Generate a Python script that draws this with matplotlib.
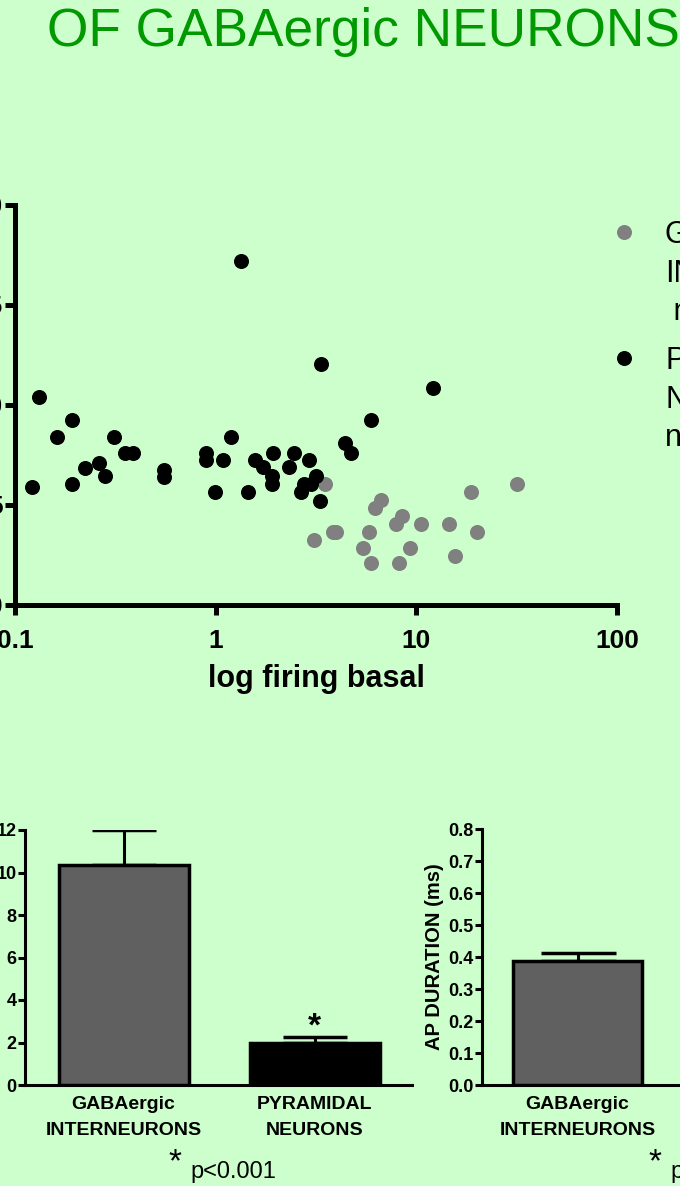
import numpy as np
import matplotlib.pyplot as plt
from matplotlib.lines import Line2D

plt.rcParams['font.family'] = ['Liberation Sans', 'DejaVu Sans']

BG = '#CCFFCC'
GREEN = '#009900'

# scatter data: basal firing (Hz, log axis) vs y value
inter_x = [3.52, 3.08, 3.83, 3.98, 6.68, 6.24, 5.84, 5.45, 5.96, 8.51,
           7.88, 10.59, 9.26, 8.19, 14.51, 15.54, 18.62, 19.95, 31.7]
inter_y = [6.05, 3.25, 3.67, 3.67, 5.25, 4.83, 3.67, 2.87, 2.08, 4.45,
           4.05, 4.05, 2.87, 2.08, 4.05, 2.45, 5.63, 3.67, 6.05]

pyr_x = [0.121, 0.131, 0.162, 0.192, 0.192, 0.224, 0.261, 0.282, 0.310, 0.355,
         0.388, 0.551, 0.551, 0.891, 0.891, 0.989, 1.093, 1.189, 1.334, 1.451,
         1.567, 1.712, 1.921, 1.899, 1.899, 2.326, 2.447, 2.928, 3.162, 2.764,
         2.661, 2.985, 3.323, 3.350, 12.12, 5.957, 4.416, 4.732]
pyr_y = [5.92, 10.42, 8.42, 9.25, 6.05, 6.87, 7.12, 6.45, 8.42, 7.62,
         7.62, 6.75, 6.42, 7.62, 7.25, 5.63, 7.25, 8.42, 17.22, 5.63,
         7.25, 6.88, 7.62, 6.45, 6.05, 6.88, 7.62, 7.25, 6.45, 6.05,
         5.63, 6.05, 5.22, 12.03, 10.83, 9.25, 8.08, 7.62]

legend_inter = ['GABAergic', 'INTERNEURONS', ' n=19']
legend_pyr = ['PYRAMIDAL', 'NEURONS', 'n=38']

# bar charts
groups = ['GABAergic\nINTERNEURONS', 'PYRAMIDAL\nNEURONS']
rate_mean = [10.35, 1.98]
rate_err = [1.65, 0.29]
ap_groups = ['GABAergic\nINTERNEURONS']
ap_mean = [0.388]
ap_err = [0.026]

W, H = 680, 1186
fig = plt.figure(figsize=(W / 100, H / 100), dpi=100, facecolor=BG)

def box(left, top, right, bottom):
    return [left / W, 1 - bottom / H, (right - left) / W, (bottom - top) / H]

fig.text(47 / W, 1 - 46 / H, 'OF GABAergic NEURONS', color=GREEN,
         fontsize=38.3, va='baseline', ha='left')

# ---- scatter ----
ax = fig.add_axes(box(15, 205, 617, 605))
ax.set_facecolor(BG)
ax.scatter(inter_x, inter_y, s=117, color='#808080', linewidths=0, zorder=3)
ax.scatter(pyr_x, pyr_y, s=117, color='black', linewidths=0, zorder=4)
ax.set_xscale('log')
ax.set_xlim(0.1, 100)
ax.set_ylim(0, 20)
ax.set_xticks([0.1, 1, 10, 100])
ax.set_xticklabels(['0.1', '1', '10', '100'])
ax.xaxis.set_minor_locator(plt.NullLocator())
ax.set_yticks([0, 5, 10, 15, 20])
for s in ['top', 'right']:
    ax.spines[s].set_visible(False)
for s in ['left', 'bottom']:
    ax.spines[s].set_linewidth(3.6)
ax.tick_params(width=3.6, length=7, labelsize=19, direction='out')
ax.tick_params(axis='x', pad=10)
ax.tick_params(axis='y', pad=2)
for lab in ax.get_xticklabels() + ax.get_yticklabels():
    lab.set_fontweight('bold')
ax.set_xlabel('log firing basal', fontsize=22, fontweight='bold', labelpad=8)

# legend (drawn as figure text, runs past the right edge)
for color, y0, lines in [('#808080', 232, legend_inter), ('black', 358, legend_pyr)]:
    fig.add_artist(Line2D([624 / W], [1 - y0 / H], marker='o', markersize=10.8,
                          color=color, markeredgewidth=0,
                          transform=fig.transFigure))
    for i, line in enumerate(lines):
        fig.text(665 / W, 1 - (y0 + 11 + 38.5 * i) / H, line, fontsize=22,
                 va='baseline', ha='left')

# ---- bar chart: firing rate ----
b1 = fig.add_axes(box(25, 830, 412, 1085))
b1.set_facecolor(BG)
b1.bar(range(2), rate_mean, width=0.68, color=['#606060', 'black'],
       edgecolor='black', linewidth=2.5, zorder=3)
b1.errorbar(range(2), rate_mean, yerr=[[0, 0], rate_err], fmt='none',
            ecolor='black', elinewidth=2.2, capsize=23, capthick=2.5, zorder=2)
b1.text(1, rate_mean[1] + rate_err[1] - 0.25, '*', ha='center', va='bottom',
        fontsize=24, fontweight='bold')
b1.set_xlim(-0.516, 1.51)
b1.set_ylim(0, 12)
b1.set_yticks(range(0, 13, 2))
b1.set_xticks(range(2))
b1.set_xticklabels(groups, linespacing=1.7)

# ---- bar chart: AP duration ----
b2 = fig.add_axes(box(482, 829, 864, 1085))
b2.set_facecolor(BG)
b2.bar(range(1), ap_mean, width=0.675, color='#606060', edgecolor='black',
       linewidth=2.5, zorder=3)
b2.errorbar(range(1), ap_mean, yerr=[[0], ap_err], fmt='none', ecolor='black',
            elinewidth=2.2, capsize=27, capthick=2.5, zorder=2)
b2.set_xlim(-0.5, 1.5)
b2.set_ylim(0, 0.8)
b2.set_yticks(np.arange(0, 0.81, 0.1))
b2.set_yticklabels([f'{v:.1f}' for v in np.arange(0, 0.81, 0.1)])
b2.set_xticks(range(1))
b2.set_xticklabels(ap_groups, linespacing=1.7)
b2.set_ylabel('AP DURATION (ms)', fontsize=14.5, fontweight='bold', labelpad=3)

for b in [b1, b2]:
    for s in ['top', 'right']:
        b.spines[s].set_visible(False)
    for s in ['left', 'bottom']:
        b.spines[s].set_linewidth(2.2)
    b.tick_params(axis='y', width=2.2, length=5, labelsize=13, pad=1)
    b.tick_params(axis='x', length=0, labelsize=14, pad=8)
    for lab in b.get_xticklabels() + b.get_yticklabels():
        lab.set_fontweight('bold')

# significance notes
for x0 in [175, 655]:
    fig.text(x0 / W, 1 - 1163 / H, '*', fontsize=24, ha='center', va='center')
    fig.text((x0 + 15) / W, 1 - 1178 / H, 'p<0.001', fontsize=17, ha='left',
             va='baseline')

fig.savefig('out.png', dpi=100, facecolor=BG)
